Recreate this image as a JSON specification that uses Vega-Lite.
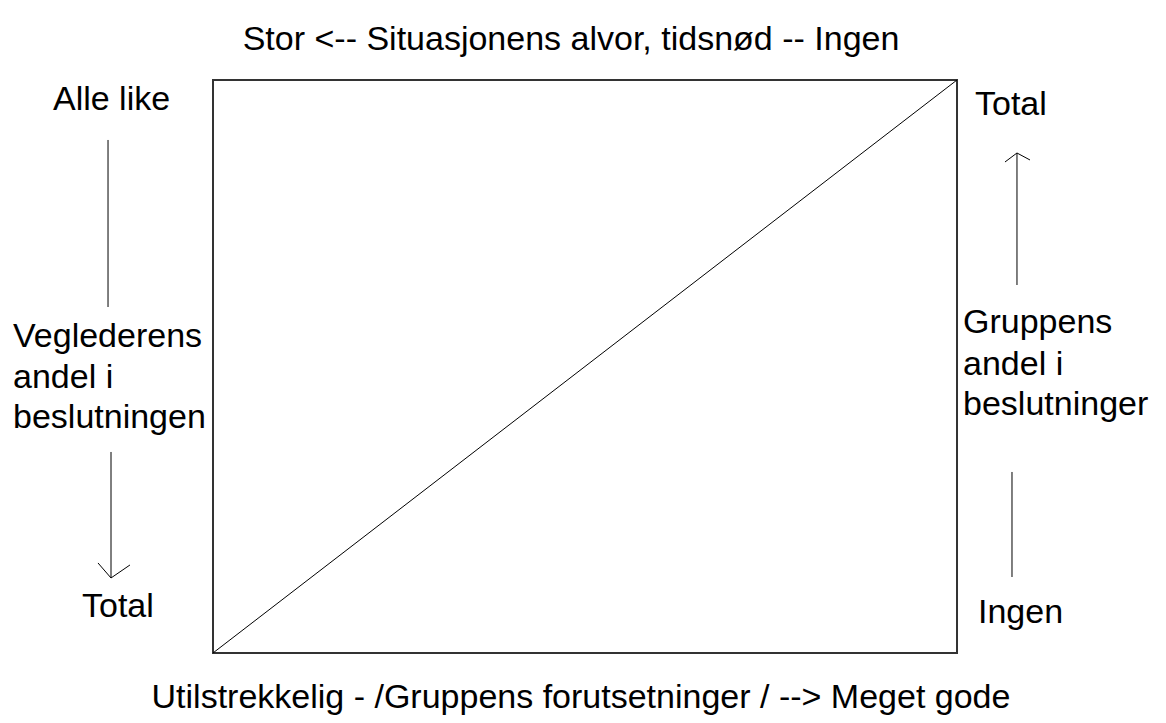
{
  "$schema": "https://vega.github.io/schema/vega-lite/v6.json",
  "autosize": {"type": "fit", "contains": "padding"},
  "width": 1166,
  "height": 723,
  "padding": 0,
  "background": "white",
  "config": {"view": {"stroke": null}},
  "datasets": {
    "box": [{"x": 0, "y": 0, "x2": 10, "y2": 10}],
    "segments": [
      {"part": "diagonal", "x": 0, "y": 0, "x2": 10, "y2": 10},
      {"part": "left upper", "x": -1.411, "y": 8.953, "x2": -1.411, "y2": 6.038},
      {"part": "left lower", "x": -1.371, "y": 3.508, "x2": -1.371, "y2": 1.309},
      {"part": "left head a", "x": -1.546, "y": 1.571, "x2": -1.371, "y2": 1.309},
      {"part": "left head b", "x": -1.116, "y": 1.536, "x2": -1.371, "y2": 1.309},
      {"part": "right upper", "x": 10.806, "y": 6.422, "x2": 10.806, "y2": 8.726},
      {"part": "right head a", "x": 10.645, "y": 8.569, "x2": 10.806, "y2": 8.726},
      {"part": "right head b", "x": 10.981, "y": 8.604, "x2": 10.806, "y2": 8.726},
      {"part": "right lower", "x": 10.739, "y": 3.159, "x2": 10.739, "y2": 1.326}
    ],
    "sideLabels": [
      {"label": "Alle like", "x": -2.151, "y": 9.476},
      {"label": "Veglederens", "x": -2.688, "y": 5.34},
      {"label": "andel i", "x": -2.688, "y": 4.625},
      {"label": "beslutningen", "x": -2.688, "y": 3.927},
      {"label": "Total", "x": -1.761, "y": 0.628},
      {"label": "Total", "x": 10.242, "y": 9.389},
      {"label": "Gruppens", "x": 10.081, "y": 5.585},
      {"label": "andel i", "x": 10.081, "y": 4.852},
      {"label": "beslutninger", "x": 10.081, "y": 4.154},
      {"label": "Ingen", "x": 10.282, "y": 0.524}
    ],
    "titles": [
      {"label": "Stor <-- Situasjonens alvor, tidsnød -- Ingen", "x": 4.812, "y": 10.524},
      {"label": "Utilstrekkelig - /Gruppens forutsetninger / --> Meget gode", "x": 4.946, "y": -0.96}
    ]
  },
  "encoding": {
    "x": {"field": "x", "type": "quantitative", "axis": null, "scale": {"domain": [-2.863, 12.809], "nice": false, "zero": false}},
    "y": {"field": "y", "type": "quantitative", "axis": null, "scale": {"domain": [-1.222, 11.396], "nice": false, "zero": false}}
  },
  "layer": [
    {
      "data": {"name": "box"},
      "mark": {"type": "rect", "fill": null, "fillOpacity": 0, "stroke": "#333333", "strokeWidth": 2},
      "encoding": {"x2": {"field": "x2"}, "y2": {"field": "y2"}}
    },
    {
      "data": {"name": "segments"},
      "mark": {"type": "rule", "color": "#000000", "strokeWidth": 1},
      "encoding": {"x2": {"field": "x2"}, "y2": {"field": "y2"}}
    },
    {
      "data": {"name": "sideLabels"},
      "mark": {"type": "text", "align": "left", "baseline": "alphabetic", "font": "Liberation Sans", "fontSize": 34, "color": "#000000"},
      "encoding": {"text": {"field": "label"}}
    },
    {
      "data": {"name": "titles"},
      "mark": {"type": "text", "align": "center", "baseline": "alphabetic", "font": "Liberation Sans", "fontSize": 34, "color": "#000000"},
      "encoding": {"text": {"field": "label"}}
    }
  ]
}
